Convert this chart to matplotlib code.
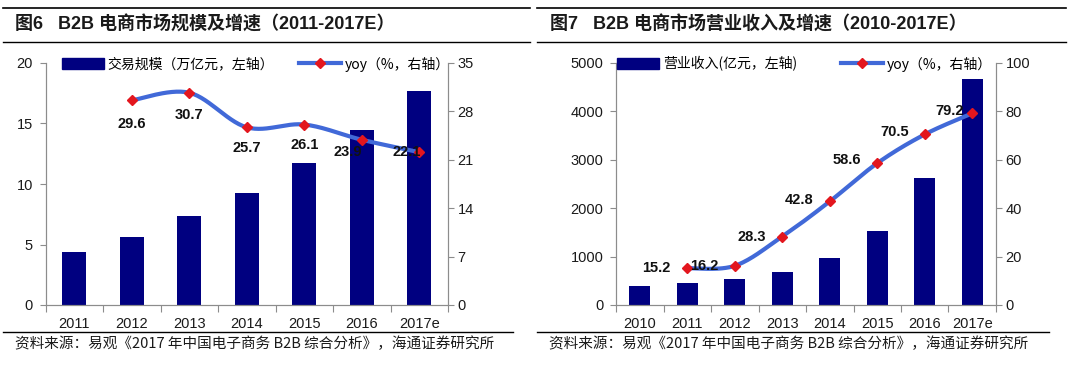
import numpy as np
import matplotlib
matplotlib.use("Agg")
import matplotlib.pyplot as plt
from matplotlib.lines import Line2D
from matplotlib.patches import Patch

# ---------------- data ----------------
years1 = ["2011", "2012", "2013", "2014", "2015", "2016", "2017e"]
scale1 = [4.36, 5.65, 7.38, 9.28, 11.7, 14.5, 17.7]          # 万亿元
yoy1_years = ["2012", "2013", "2014", "2015", "2016", "2017e"]
yoy1 = [29.6, 30.7, 25.7, 26.1, 23.9, 22.1]
yoy1_label_off = [(0, -17), (0, -16), (0, -15), (0, -15), (-10, -9), (-9, 0)]

years2 = ["2010", "2011", "2012", "2013", "2014", "2015", "2016", "2017e"]
revenue2 = [395, 455, 529, 679, 969, 1536, 2615, 4660]      # 亿元
yoy2_years = ["2011", "2012", "2013", "2014", "2015", "2016", "2017e"]
yoy2 = [15.2, 16.2, 28.3, 42.8, 58.6, 70.5, 79.2]
yoy2_label_off = [(-22, 0), (-22, 0), (-22, 0), (-22, 1), (-22, 2), (-22, 2), (-16, 2)]

title1 = "图6   B2B 电商市场规模及增速（2011-2017E）"
title2 = "图7   B2B 电商市场营业收入及增速（2010-2017E）"
leg1 = ["交易规模（万亿元，左轴）", "yoy（%，右轴）"]
leg2 = ["营业收入(亿元，左轴)", "yoy（%，右轴）"]
source = "资料来源：易观《2017 年中国电子商务 B2B 综合分析》，海通证券研究所"

BAR = "#000080"
LINE = "#4169D8"
MARK = "#E3161E"
SPINE = "#8C8C8C"
LAT = ["Liberation Sans", "Noto Sans CJK SC", "DejaVu Sans"]
CJK = ["Noto Sans CJK SC", "DejaVu Sans"]

W, H = 1068, 365
fig = plt.figure(figsize=(W / 100, H / 100), dpi=100)


def fx(px):
    return px / W


def fy(py):
    return 1 - py / H


def smooth(x, y, n=30):
    x = np.asarray(x, float)
    y = np.asarray(y, float)
    P = np.column_stack([x, y])
    P = np.vstack([P[0], P, P[-1]])
    out = []
    for i in range(1, len(P) - 2):
        p0, p1, p2, p3 = P[i - 1], P[i], P[i + 1], P[i + 2]
        c1 = p1 + (p2 - p0) / 6
        c2 = p2 - (p3 - p1) / 6
        t = np.linspace(0, 1, n)[:, None]
        seg = (1 - t) ** 3 * p1 + 3 * (1 - t) ** 2 * t * c1 + 3 * (1 - t) * t ** 2 * c2 + t ** 3 * p2
        out.append(seg if i == 1 else seg[1:])
    s = np.vstack(out)
    return s[:, 0], s[:, 1]


def panel(rect, cats, bars, barw, ylim_l, yt_l, ylim_r, yt_r, lx, ly, offs,
          legtxt, leg_anchor, colsp, title, title_x, rule_x, src_x):
    ax = fig.add_axes(rect)
    idx = np.arange(len(cats))
    ax.bar(idx, bars, width=barw, color=BAR, zorder=2)
    ax.set_xlim(-0.5, len(cats) - 0.5)
    ax.set_ylim(*ylim_l)
    ax.set_yticks(yt_l)
    ax.set_xticks(np.arange(len(cats) + 1) - 0.5)
    ax.set_xticklabels([])
    ax.set_xticks(idx, minor=True)
    ax.set_xticklabels(cats, minor=True)
    ax.tick_params(axis="x", which="major", length=5, color=SPINE, direction="out")
    ax.tick_params(axis="x", which="minor", length=0, pad=9, labelsize=10.5)
    ax.tick_params(axis="y", length=4, color=SPINE, pad=5, labelsize=10.5)
    for lab in ax.get_xticklabels(minor=True) + ax.get_yticklabels():
        lab.set_family(LAT)
        lab.set_color("#1a1a1a")
    ax.spines["top"].set_visible(False)
    for s in ("left", "right", "bottom"):
        ax.spines[s].set_color(SPINE)

    ax2 = ax.twinx()
    ax2.set_ylim(*ylim_r)
    ax2.set_yticks(yt_r)
    ax2.tick_params(axis="y", length=4, color=SPINE, pad=3, labelsize=10.5)
    for lab in ax2.get_yticklabels():
        lab.set_family(LAT)
        lab.set_color("#1a1a1a")
    ax2.spines["top"].set_visible(False)
    for s in ("left", "right", "bottom"):
        ax2.spines[s].set_color(SPINE)

    xi = np.array([cats.index(c) for c in lx], float)
    sx, sy = smooth(xi, ly)
    ax2.plot(sx, sy, color=LINE, lw=3.0, solid_capstyle="round", zorder=3)
    ax2.plot(xi, ly, ls="none", marker="D", ms=5.5, color=MARK, zorder=4)
    for x, v, (dx, dy) in zip(xi, ly, offs):
        ax2.annotate(f"{v:.1f}", (x, v), xytext=(dx, dy), textcoords="offset points",
                     ha="center", va="center", fontsize=10.5, fontweight="bold",
                     family=LAT, color="#111111", zorder=5)

    handles = [Patch(facecolor=BAR, edgecolor=BAR),
               Line2D([], [], color=LINE, lw=3, marker="D", ms=5, mfc=MARK, mec=MARK)]
    fig.legend(handles, legtxt, loc="center left", bbox_to_anchor=leg_anchor,
               ncol=2, frameon=False, prop={"family": CJK, "size": 10},
               handlelength=3.0, handleheight=0.9, handletextpad=0.3,
               columnspacing=colsp, borderaxespad=0, borderpad=0)

    # rules and texts
    x0, x1 = rule_x
    fig.add_artist(Line2D([fx(x0), fx(x1)], [fy(8), fy(8)], color="black", lw=1.2))
    fig.add_artist(Line2D([fx(x0), fx(x1)], [fy(42), fy(42)], color="black", lw=1.0))
    fig.text(fx(title_x), fy(25), title, family=LAT, fontweight="bold",
             fontsize=13, va="center", ha="left", color="#1a1a1a")
    fig.add_artist(Line2D([fx(src_x[0]), fx(src_x[1])], [fy(332), fy(332)],
                          color="black", lw=1.0))
    fig.text(fx(src_x[0] + 12), fy(344), source, family=CJK, fontsize=10.5,
             va="center", ha="left", color="#1a1a1a")
    return ax, ax2


panel([fx(45.5), fy(305), fx(448) - fx(45.5), fy(63) - fy(305)],
      years1, scale1, 0.42, (0, 20), [0, 5, 10, 15, 20], (0, 35), [0, 7, 14, 21, 28, 35],
      yoy1_years, yoy1, yoy1_label_off, leg1, (fx(62), fy(64)), 1.8,
      title1, 15, (3, 530), (3, 513))

panel([fx(616), fy(305), fx(996) - fx(616), fy(63) - fy(305)],
      years2, revenue2, 0.45, (0, 5000), [0, 1000, 2000, 3000, 4000, 5000], (0, 100),
      [0, 20, 40, 60, 80, 100],
      yoy2_years, yoy2, yoy2_label_off, leg2, (fx(617), fy(64)), 3.2,
      title2, 550, (537, 1066), (537, 1049))

fig.savefig("out.png", dpi=100)
